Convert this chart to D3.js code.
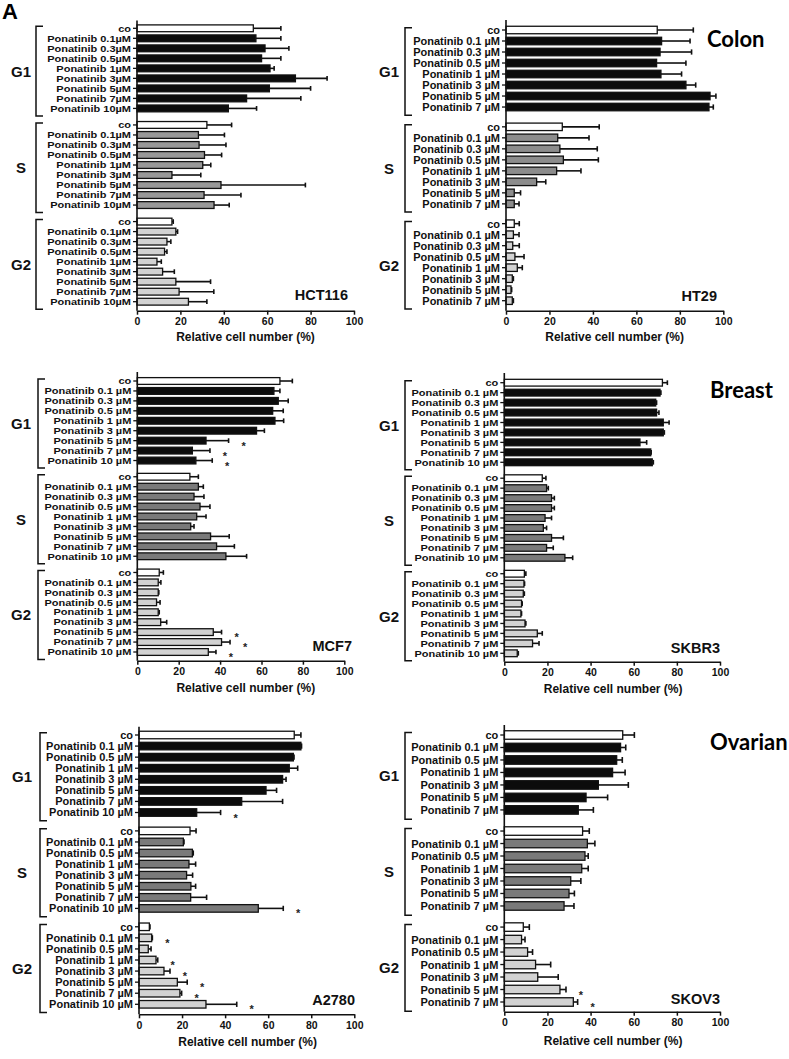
<!DOCTYPE html>
<html><head><meta charset="utf-8">
<script src="https://cdn.jsdelivr.net/npm/d3@7/dist/d3.min.js"></script>
<style>body{margin:0;background:#fff}</style>
</head><body>
<svg id="c" width="789" height="1059"></svg>
<script>
// ---------------- data ----------------
const groupNames = ["G1", "S", "G2"];
const xTicks = [0, 20, 40, 60, 80, 100];
const axisTitle = "Relative cell number (%)";

// HCT116 (colon)
const hct116Labels = ["co","Ponatinib 0.1µM","Ponatinib 0.3µM","Ponatinib 0.5µM","Ponatinib 1µM","Ponatinib 3µM","Ponatinib 5µM","Ponatinib 7µM","Ponatinib 10µM"];
const hct116G1 = [53.6,54.8,59.0,57.4,61.3,73.0,61.0,50.5,42.1];
const hct116G1Err = [12.7,11.5,11.0,8.9,1.9,14.6,19.0,25.0,13.0];
const hct116S = [32.2,28.3,28.6,31.1,30.3,16.1,38.7,30.9,35.5];
const hct116SErr = [11.4,12.0,12.4,7.9,3.7,13.3,38.9,17.0,7.0];
const hct116G2 = [16.1,17.9,13.8,12.7,9.2,11.8,17.9,19.4,23.7];
const hct116G2Err = [0.6,0.8,1.8,1.1,2.0,5.4,16.0,16.0,8.5];

// HT29 (colon)
const ht29Labels = ["co","Ponatinib 0.1 µM","Ponatinib 0.3 µM","Ponatinib 0.5 µM","Ponatinib 1 µM","Ponatinib 3 µM","Ponatinib 5 µM","Ponatinib 7 µM"];
const ht29G1 = [69.6,71.6,70.9,69.3,71.3,82.8,93.9,93.4];
const ht29G1Err = [16.6,13.1,14.5,13.5,9.5,4.5,2.7,2.0];
const ht29S = [25.9,23.8,24.8,26.4,23.3,14.1,3.8,3.8];
const ht29SErr = [17.0,14.4,17.2,16.1,11.2,4.2,2.9,2.2];
const ht29G2 = [3.8,3.4,3.1,4.1,5.2,2.9,2.3,2.9];
const ht29G2Err = [2.3,2.6,3.0,4.2,2.3,0.5,0.3,0.5];

// MCF7 (breast)
const mcf7Labels = ["co","Ponatinib 0.1 µM","Ponatinib 0.3 µM","Ponatinib 0.5 µM","Ponatinib 1 µM","Ponatinib 3 µM","Ponatinib 5 µM","Ponatinib 7 µM","Ponatinib 10 µM"];
const mcf7G1 = [68.9,66.0,68.1,65.4,66.5,57.6,33.2,26.6,28.3];
const mcf7G1Err = [6.0,2.9,4.8,5.1,4.2,3.8,10.9,8.5,7.9];
const mcf7G1Star = [0,0,0,0,0,0,1,1,1];
const mcf7S = [25.4,29.5,27.4,30.3,28.7,25.8,35.4,38.3,42.8];
const mcf7SErr = [4.1,2.4,4.8,4.8,4.5,1.6,9.0,8.6,10.0];
const mcf7G2 = [10.6,10.1,10.1,9.3,10.1,11.3,36.7,40.7,34.3];
const mcf7G2Err = [2.0,1.3,0.3,1.7,0.5,2.9,4.0,4.1,3.7];
const mcf7G2Star = [0,0,0,0,0,0,1,1,1];

// SKBR3 (breast)
const skbr3Labels = mcf7Labels;
const skbr3G1 = [73.3,72.2,70.2,70.6,73.7,73.7,62.9,67.9,68.6];
const skbr3G1Err = [2.3,0.4,0.4,1.1,2.7,0.5,3.1,0.2,0.5];
const skbr3S = [17.6,19.6,21.9,21.9,18.9,18.1,21.9,19.6,28.1];
const skbr3SErr = [1.7,0.8,1.3,1.3,3.0,1.5,5.5,3.1,3.6];
const skbr3G2 = [9.3,9.1,8.8,8.0,7.7,9.6,15.3,13.1,6.0];
const skbr3G2Err = [0.7,0.3,0.5,0.3,0.3,0.4,2.3,3.0,0.5];

// A2780 (ovarian)
const a2780Labels = ["co","Ponatinib 0.1 µM","Ponatinib 0.5 µM","Ponatinib 1 µM","Ponatinib 3 µM","Ponatinib 5 µM","Ponatinib 7 µM","Ponatinib 10 µM"];
const a2780G1 = [72.1,75.2,71.7,69.8,66.7,59.0,47.7,26.8];
const a2780G1Err = [3.1,0.3,0.3,3.9,1.6,4.9,19.0,11.1];
const a2780G1Star = [0,0,0,0,0,0,0,1];
const a2780S = [23.7,20.6,24.8,23.2,22.1,24.1,24.0,55.4];
const a2780SErr = [2.8,0.3,0.4,3.1,2.8,2.2,7.4,11.6];
const a2780SStar = [0,0,0,0,0,0,0,1];
const a2780G2 = [4.8,5.9,4.3,7.9,11.6,17.8,19.0,31.1];
const a2780G2Err = [0.3,0.3,1.3,0.8,2.8,4.6,0.8,14.3];
const a2780G2Star = [0,1,0,1,1,1,1,1];

// SKOV3 (ovarian)
const skov3Labels = ["co","Ponatinib 0.1 µM","Ponatinib 0.5 µM","Ponatinib 1 µM","Ponatinib 3 µM","Ponatinib 5 µM","Ponatinib 7 µM"];
const skov3G1 = [54.9,53.9,52.1,50.2,43.6,37.9,34.3];
const skov3G1Err = [5.4,2.4,2.6,5.8,13.9,10.0,7.0];
const skov3S = [36.3,38.5,37.4,35.9,30.8,30.0,27.7];
const skov3SErr = [3.1,3.5,1.5,3.0,4.7,2.5,4.6];
const skov3G2 = [8.8,8.0,10.8,14.5,15.5,25.8,32.0];
const skov3G2Err = [2.8,1.6,2.3,7.0,9.5,2.8,2.0];
const skov3G2Star = [0,0,0,0,0,1,1];

// ---------------- drawing ----------------
const ARIAL = '"Liberation Sans", Arial, sans-serif';
const svg = d3.select("#c");
svg.append("rect").attr("width",789).attr("height",1059).attr("fill","#fff");

function drawPanel(c) {
  const g = svg.append("g");
  const n = c.labels.length;
  const x = d3.scaleLinear().domain([0,100]).range([c.x0, c.x1]);
  const lastIdx = 2*(n + c.gap) + n - 1;
  const y = d3.scaleLinear().domain([0,lastIdx]).range([c.yFirst, c.yLast]);
  const step = y(1) - y(0);
  const bh = step * 0.68;
  const cap = bh * 0.7;
  const colors = ["#0c0c0c", c.sColor, "#d2d2d2"];

  c.series.forEach((s, k) => {
    const rows = s.vals.map((v, i) => ({
      v, e: s.err[i], star: s.star ? s.star[i] : 0,
      idx: k*(n + c.gap) + i, i, label: c.labels[i]
    }));
    // y ticks
    g.selectAll(null).data(rows).join("line")
      .attr("x1", x(0) - 4).attr("x2", x(0))
      .attr("y1", d => y(d.idx)).attr("y2", d => y(d.idx))
      .attr("stroke", "#111").attr("stroke-width", 1.3);
    // labels (slightly condensed vertically like the original)
    g.selectAll(null).data(rows).join("text")
      .attr("transform", d => `translate(${x(0) - 6},${y(d.idx)}) scale(1,${c.labelSquash})`)
      .attr("text-anchor", "end").attr("dominant-baseline", "central")
      .style("font-family", ARIAL)
      .attr("font-size", c.labelSize).attr("font-weight", "bold").attr("fill", "#111")
      .text(d => d.label);
    // error bars
    g.selectAll(null).data(rows).join("line")
      .attr("x1", d => x(d.v)).attr("x2", d => x(d.v + d.e))
      .attr("y1", d => y(d.idx)).attr("y2", d => y(d.idx))
      .attr("stroke", "#111").attr("stroke-width", 1.6);
    g.selectAll(null).data(rows).join("line")
      .attr("x1", d => x(d.v + d.e)).attr("x2", d => x(d.v + d.e))
      .attr("y1", d => y(d.idx) - cap/2).attr("y2", d => y(d.idx) + cap/2)
      .attr("stroke", "#111").attr("stroke-width", 1.6);
    // bars
    g.selectAll(null).data(rows).join("rect")
      .attr("x", x(0)).attr("y", d => y(d.idx) - bh/2)
      .attr("width", d => x(d.v) - x(0)).attr("height", bh)
      .attr("fill", d => d.i === 0 ? "#fff" : colors[k])
      .attr("stroke", "#111").attr("stroke-width", 1.3);
    // stars
    g.selectAll(null).data(rows.filter(d => d.star)).join("text")
      .attr("x", d => x(d.v + d.e) + 15).attr("y", d => y(d.idx) + 9)
      .attr("text-anchor", "middle").style("font-family", ARIAL)
      .attr("font-size", 11).attr("font-weight", "bold")
      .attr("fill", "#222").text("*");
    // bracket
    const top = y(k*(n + c.gap)) - 0.2*step;
    const bot = y(k*(n + c.gap) + n - 1) + 0.75*step;
    g.append("path")
      .attr("d", `M${c.bx+7},${top}H${c.bx}V${bot}H${c.bx+7}`)
      .attr("fill", "none").attr("stroke", "#111").attr("stroke-width", 1.5);
    g.append("text")
      .attr("x", c.gx).attr("y", (top + bot)/2)
      .attr("text-anchor", "middle").attr("dominant-baseline", "central")
      .style("font-family", ARIAL)
      .attr("font-size", 15).attr("font-weight", "bold").attr("fill", "#111")
      .text(groupNames[k]);
  });

  // y axis line
  g.append("line").attr("x1", x(0)).attr("x2", x(0))
    .attr("y1", c.axisTop).attr("y2", c.axisBottom)
    .attr("stroke", "#111").attr("stroke-width", 1.6);
  // x axis
  const ax = g.append("g").attr("transform", `translate(0,${c.axisBottom})`)
    .call(d3.axisBottom(x).tickValues(xTicks).tickSize(4).tickSizeOuter(0).tickPadding(3));
  ax.select(".domain").attr("stroke", "#111").attr("stroke-width", 1.6);
  ax.selectAll(".tick line").attr("stroke", "#111").attr("stroke-width", 1.5);
  ax.selectAll(".tick text").attr("font-size", 10.5).attr("font-weight", "bold")
    .attr("fill", "#111").style("font-family", ARIAL);
  // axis title
  g.append("text").attr("x", (x(0) + x(100))/2 + c.titleDx).attr("y", c.titleY)
    .attr("text-anchor", "middle").attr("dominant-baseline", "central")
    .style("font-family", ARIAL)
    .attr("font-size", 12).attr("font-weight", "bold").attr("fill", "#111")
    .text(axisTitle);
  // cell line
  g.append("text").attr("x", c.cellX).attr("y", c.cellY)
    .attr("text-anchor", "end").attr("dominant-baseline", "central")
    .style("font-family", ARIAL)
    .attr("font-size", 14.5).attr("font-weight", "bold").attr("fill", "#111")
    .text(c.cell);
}

drawPanel({cell:"HCT116", labels:hct116Labels,
  series:[{vals:hct116G1, err:hct116G1Err},{vals:hct116S, err:hct116SErr},{vals:hct116G2, err:hct116G2Err}],
  x0:137, x1:354, yFirst:28.3, yLast:301.7, gap:0.65, axisTop:20.5, axisBottom:310.7,
  bx:36, gx:21, sColor:"#989898", labelSize:11, labelSquash:0.85, titleY:337, titleDx:0, cellX:348, cellY:295});

drawPanel({cell:"HT29", labels:ht29Labels,
  series:[{vals:ht29G1, err:ht29G1Err},{vals:ht29S, err:ht29SErr},{vals:ht29G2, err:ht29G2Err}],
  x0:506, x1:723.3, yFirst:30, yLast:300.7, gap:0.8, axisTop:20, axisBottom:310.7,
  bx:405, gx:389, sColor:"#8c8c8c", labelSize:11, labelSquash:0.92, titleY:337, titleDx:0, cellX:717, cellY:295.7});

drawPanel({cell:"MCF7", labels:mcf7Labels,
  series:[{vals:mcf7G1, err:mcf7G1Err, star:mcf7G1Star},{vals:mcf7S, err:mcf7SErr},{vals:mcf7G2, err:mcf7G2Err, star:mcf7G2Star}],
  x0:137.3, x1:344.3, yFirst:381, yLast:652, gap:0.63, axisTop:372, axisBottom:660.7,
  bx:38, gx:21, sColor:"#7a7a7a", labelSize:11, labelSquash:0.87, titleY:688.3, titleDx:5, cellX:352, cellY:645.7});

drawPanel({cell:"SKBR3", labels:skbr3Labels,
  series:[{vals:skbr3G1, err:skbr3G1Err},{vals:skbr3S, err:skbr3SErr},{vals:skbr3G2, err:skbr3G2Err}],
  x0:504.3, x1:720, yFirst:382.7, yLast:653.3, gap:0.6, axisTop:373, axisBottom:661.7,
  bx:405, gx:389, sColor:"#7a7a7a", labelSize:11, labelSquash:0.87, titleY:689, titleDx:1, cellX:720, cellY:647.7});

drawPanel({cell:"A2780", labels:a2780Labels,
  series:[{vals:a2780G1, err:a2780G1Err, star:a2780G1Star},{vals:a2780S, err:a2780SErr, star:a2780SStar},{vals:a2780G2, err:a2780G2Err, star:a2780G2Star}],
  x0:139, x1:354.3, yFirst:735, yLast:1004.3, gap:0.66, axisTop:726.7, axisBottom:1014.3,
  bx:40, gx:22, sColor:"#7a7a7a", labelSize:11, labelSquash:0.95, titleY:1041.7, titleDx:1, cellX:355, cellY:1000});

drawPanel({cell:"SKOV3", labels:skov3Labels,
  series:[{vals:skov3G1, err:skov3G1Err},{vals:skov3S, err:skov3SErr},{vals:skov3G2, err:skov3G2Err, star:skov3G2Star}],
  x0:504.3, x1:720, yFirst:735, yLast:1002, gap:0.69, axisTop:725, axisBottom:1011.7,
  bx:405, gx:389, sColor:"#7a7a7a", labelSize:11, labelSquash:1, titleY:1040.7, titleDx:1, cellX:720, cellY:999});

// tissue titles and panel letter
const tissues = [{t:"Colon", x:707, y:38}, {t:"Breast", x:710, y:389}, {t:"Ovarian", x:710, y:741}];
svg.selectAll(null).data(tissues).join("text")
  .attr("x", d => d.x).attr("y", d => d.y).attr("dominant-baseline", "central")
  .style("font-family", "Lato, 'Open Sans', sans-serif").attr("font-weight", "bold")
  .attr("font-size", 22).attr("fill", "#000").text(d => d.t);
svg.append("text").attr("x", 2).attr("y", 19).style("font-family", ARIAL)
  .attr("font-size", 22).attr("font-weight", "bold")
  .attr("fill", "#000").text("A");
</script>
</body></html>
